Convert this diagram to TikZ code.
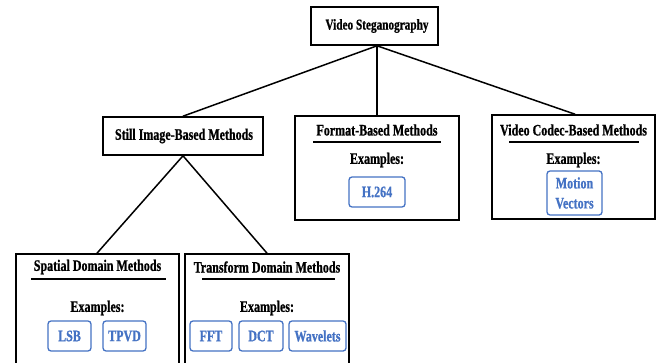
\documentclass[tikz,border=0pt]{standalone}
\usepackage{fontspec}
\setmainfont{Liberation Serif}[FakeStretch=0.75, BoldFeatures={FakeBold=0.8}]
\definecolor{exblue}{RGB}{68,114,196}
\begin{document}
\begin{tikzpicture}[x=1pt,y=-1pt,
  txt/.style={font=\bfseries\fontsize{16}{19}\selectfont, inner sep=0pt},
  frame/.style={draw, line width=1.6pt, inner sep=0pt},
  chip/.style={draw=exblue, text=exblue, rounded corners=3pt, line width=1.3pt, inner sep=0pt,
    minimum height=30pt, font=\bfseries\fontsize{16}{20}\selectfont, align=center},
  conn/.style={line width=1.5pt},
  rule/.style={line width=1.5pt}]
\clip (0,0) rectangle (663,363);
\fill[white] (0,0) rectangle (663,363);
% top
\node[frame, minimum width=127pt, minimum height=38pt] (top) at (374.5,26) {};
\node[txt, font=\bfseries\fontsize{15}{18}\selectfont] (toptxt) at (377,26) {Video Steganography};
% still
\node[frame, minimum width=160pt, minimum height=38pt] (still) at (183,136) {};
\node[txt] (stilltxt) at (184,136) {Still Image-Based Methods};
% format
\node[frame, minimum width=164pt, minimum height=104pt] (format) at (377,168) {};
\node[txt] (formattxt) at (377,130) {Format-Based Methods};
\draw[rule] (313,142) -- (441,142);
\node[txt] (formatex) at (377,160) {Examples:};
\node[chip, minimum width=56pt] (h264) at (377,192) {H.264};
% codec
\node[frame, minimum width=163pt, minimum height=104pt] (codec) at (573.5,167) {};
\node[txt] (codectxt) at (573.5,130) {Video Codec-Based Methods};
\draw[rule] (509,142) -- (639,142);
\node[txt] (codecex) at (573.5,160) {Examples:};
\node[chip, minimum width=55pt, minimum height=44pt] (mv) at (574.5,193) {Motion\\Vectors};
% spatial
\node[frame, minimum width=163pt, minimum height=120pt] (spatial) at (97.5,314) {};
\node[txt] (spatialtxt) at (97.5,267) {Spatial Domain Methods};
\draw[rule] (31,279) -- (166,279);
\node[txt] (spatialex) at (97.5,308) {Examples:};
\node[chip, minimum width=43pt] (lsb) at (69.5,336) {LSB};
\node[chip, minimum width=43pt] (tpvd) at (124.5,336) {TPVD};
% transform
\node[frame, minimum width=164pt, minimum height=120pt] (transform) at (267,314) {};
\node[txt] (transformtxt) at (267,267) {Transform Domain Methods};
\draw[rule] (202,279) -- (335,279);
\node[txt] (transformex) at (267,308) {Examples:};
\node[chip, minimum width=42pt] (fft) at (211,336) {FFT};
\node[chip, minimum width=44pt] (dct) at (261,336) {DCT};
\node[chip, minimum width=57pt] (wav) at (317.5,336) {Wavelets};
% connectors
\coordinate (topout) at ([xshift=2.5pt]top.south);
\draw[conn] (topout) -- (still.north);
\draw[conn] (topout) -- (topout |- format.north);
\draw[conn] (topout) -- ([xshift=1.5pt]codec.north);
\draw[conn] (still.south) -- ([xshift=-0.5pt]spatial.north);
\draw[conn] (still.south) -- (transform.north);
\end{tikzpicture}
\end{document}
